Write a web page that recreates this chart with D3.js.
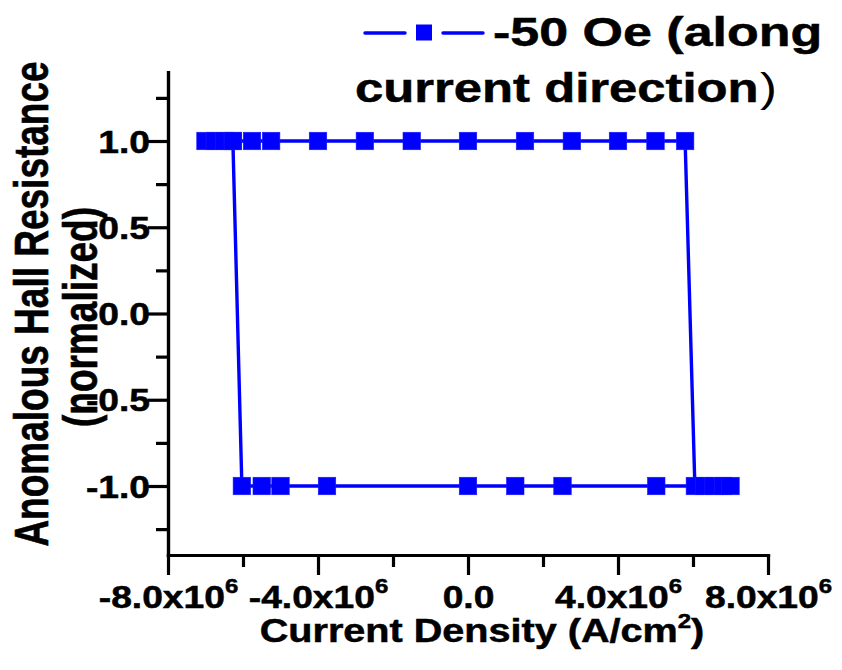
<!DOCTYPE html>
<html>
<head>
<meta charset="utf-8">
<script src="https://cdn.jsdelivr.net/npm/d3@7"></script>
<style>
  html, body { margin: 0; padding: 0; background: #fff; }
  svg { display: block; }
  text { font-family: "Liberation Sans", Arial, sans-serif; font-weight: bold; fill: #000;
         stroke: #000; stroke-width: 0.5px; }
</style>
</head>
<body>
<svg id="chart" width="842" height="670"></svg>
<script>
// Current sweep, in A/cm², in measurement order (up-sweep then down-sweep)
const currentDensity = [
  -7.0e6, -6.75e6, -6.5e6, -6.27e6, -5.76e6, -5.25e6, -4.0e6, -2.75e6, -1.5e6, 0,
  1.52e6, 2.77e6, 4.0e6, 5.0e6, 5.79e6,
  6.05e6, 6.3e6, 6.55e6, 6.8e6, 7.0e6,
  5.02e6, 2.52e6, 1.26e6, 0, -3.76e6, -5.0e6, -5.5e6, -6.03e6,
  -6.27e6
];
// Normalized anomalous Hall resistance for each current step
const hallResistance = [
  1, 1, 1, 1, 1, 1, 1, 1, 1, 1,
  1, 1, 1, 1, 1,
  -1, -1, -1, -1, -1,
  -1, -1, -1, -1, -1, -1, -1, -1,
  1
];

const xMajorTicks = [-8e6, -4e6, 0, 4e6, 8e6];
const xMinorTicks = [-6e6, -2e6, 2e6, 6e6];
const xTickMantissas = ["-8.0x10", "-4.0x10", "0.0", "4.0x10", "8.0x10"];
const xTickExponents = ["6", "6", "", "6", "6"];
const yMajorTicks = [-1, -0.5, 0, 0.5, 1];
const yMinorTicks = [-1.25, -0.75, -0.25, 0.25, 0.75, 1.25];
const yTickLabels = ["-1.0", "-0.5", "0.0", "0.5", "1.0"];

const seriesName = "-50 Oe (along";
const seriesName2 = "current direction";
const xTitle = "Current Density (A/cm";
const yTitle1 = "Anomalous Hall Resistance";
const yTitle2 = "(normalized)";

const BLUE = "#0000ff";
const SX_TICK = 1.2;      // horizontal stretch of tick labels and x title
const SX_LEG = 1.3;       // horizontal stretch of the legend text
const svg = d3.select("#chart");

const plotLeft = 168, plotRight = 768, plotTop = 72, plotBottom = 555;
const x = d3.scaleLinear().domain([-8e6, 8e6]).range([plotLeft, plotRight]);
const y = d3.scaleLinear().domain([-1.4, 1.4]).range([plotBottom, plotTop]);

// ---- axes ----
const gx = svg.append("g").attr("transform", `translate(0,${plotBottom})`);
gx.call(d3.axisBottom(x).tickValues(xMinorTicks).tickSize(12).tickSizeOuter(0).tickFormat(""));
const gxMaj = svg.append("g").attr("transform", `translate(0,${plotBottom})`)
  .call(d3.axisBottom(x).tickValues(xMajorTicks).tickSize(20).tickSizeOuter(0));

const gy = svg.append("g").attr("transform", `translate(${plotLeft},0)`);
gy.call(d3.axisLeft(y).tickValues(yMinorTicks).tickSize(12).tickSizeOuter(0).tickFormat(""));
const gyMaj = svg.append("g").attr("transform", `translate(${plotLeft},0)`)
  .call(d3.axisLeft(y).tickValues(yMajorTicks).tickSize(20).tickSizeOuter(0));

svg.selectAll(".domain").attr("stroke", "#000").attr("stroke-width", 3.2).attr("stroke-linecap", "square");
svg.selectAll(".tick line").attr("stroke", "#000").attr("stroke-width", 3.2);

gxMaj.selectAll(".tick text").each(function(d, i) {
  const t = d3.select(this);
  t.text(null)
    .attr("x", 0).attr("y", 53).attr("dy", null)
    .attr("font-size", 31).attr("text-anchor", "middle")
    .attr("transform", `scale(${SX_TICK},1)`);
  t.append("tspan").text(xTickMantissas[i]);
  if (xTickExponents[i]) {
    t.append("tspan").attr("dy", -15).attr("font-size", 20).text(xTickExponents[i]);
  }
});

gyMaj.selectAll(".tick text").each(function(d, i) {
  d3.select(this).text(yTickLabels[i])
    .attr("x", 0).attr("dy", "0.36em")
    .attr("font-size", 31).attr("text-anchor", "end")
    .attr("transform", `translate(-18,0) scale(${SX_TICK},1)`);
});

// ---- axis titles ----
const xt = svg.append("text")
  .attr("transform", `translate(482,642) scale(${SX_TICK},1)`)
  .attr("text-anchor", "middle").attr("font-size", 33);
xt.append("tspan").text(xTitle);
xt.append("tspan").attr("dy", -14).attr("font-size", 20).text("2");
xt.append("tspan").attr("dy", 14).text(")");

svg.append("text")
  .attr("transform", `translate(48,304) scale(1.3,1) rotate(-90)`)
  .attr("text-anchor", "middle").attr("font-size", 37).text(yTitle1);
svg.append("text")
  .attr("transform", `translate(97,317) scale(1.3,1) rotate(-90)`)
  .attr("text-anchor", "middle").attr("font-size", 37).text(yTitle2);

// ---- data ----
const pts = currentDensity.map((c, i) => [c, hallResistance[i]]);
const line = d3.line().x(d => x(d[0])).y(d => y(d[1]));

svg.append("path").datum(pts)
  .attr("d", line)
  .attr("fill", "none").attr("stroke", BLUE).attr("stroke-width", 3.4)
  .attr("stroke-linejoin", "round").attr("stroke-linecap", "round");

const MS = 17.5;
svg.append("g").selectAll("rect").data(pts).join("rect")
  .attr("x", d => x(d[0]) - MS / 2).attr("y", d => y(d[1]) - MS / 2)
  .attr("width", MS).attr("height", MS)
  .attr("fill", BLUE).attr("stroke", "#1a1aff").attr("stroke-width", 0.6);

// ---- legend ----
const lg = svg.append("g");
lg.append("line").attr("x1", 365).attr("x2", 405).attr("y1", 33).attr("y2", 33)
  .attr("stroke", BLUE).attr("stroke-width", 3.4).attr("stroke-linecap", "round");
lg.append("line").attr("x1", 443).attr("x2", 483).attr("y1", 33).attr("y2", 33)
  .attr("stroke", BLUE).attr("stroke-width", 3.4).attr("stroke-linecap", "round");
lg.append("rect").attr("x", 416).attr("y", 24.5).attr("width", 16).attr("height", 16).attr("fill", BLUE);

lg.append("text").attr("transform", `translate(493,46) scale(${SX_LEG},1)`)
  .attr("font-size", 40).text(seriesName);
const l2 = lg.append("text").attr("transform", `translate(355,102) scale(1.27,1)`)
  .attr("font-size", 40);
l2.append("tspan").text(seriesName2);
l2.append("tspan").attr("font-weight", "normal").attr("stroke-width", 0).attr("dx", 1).text(")");
</script>
</body>
</html>
